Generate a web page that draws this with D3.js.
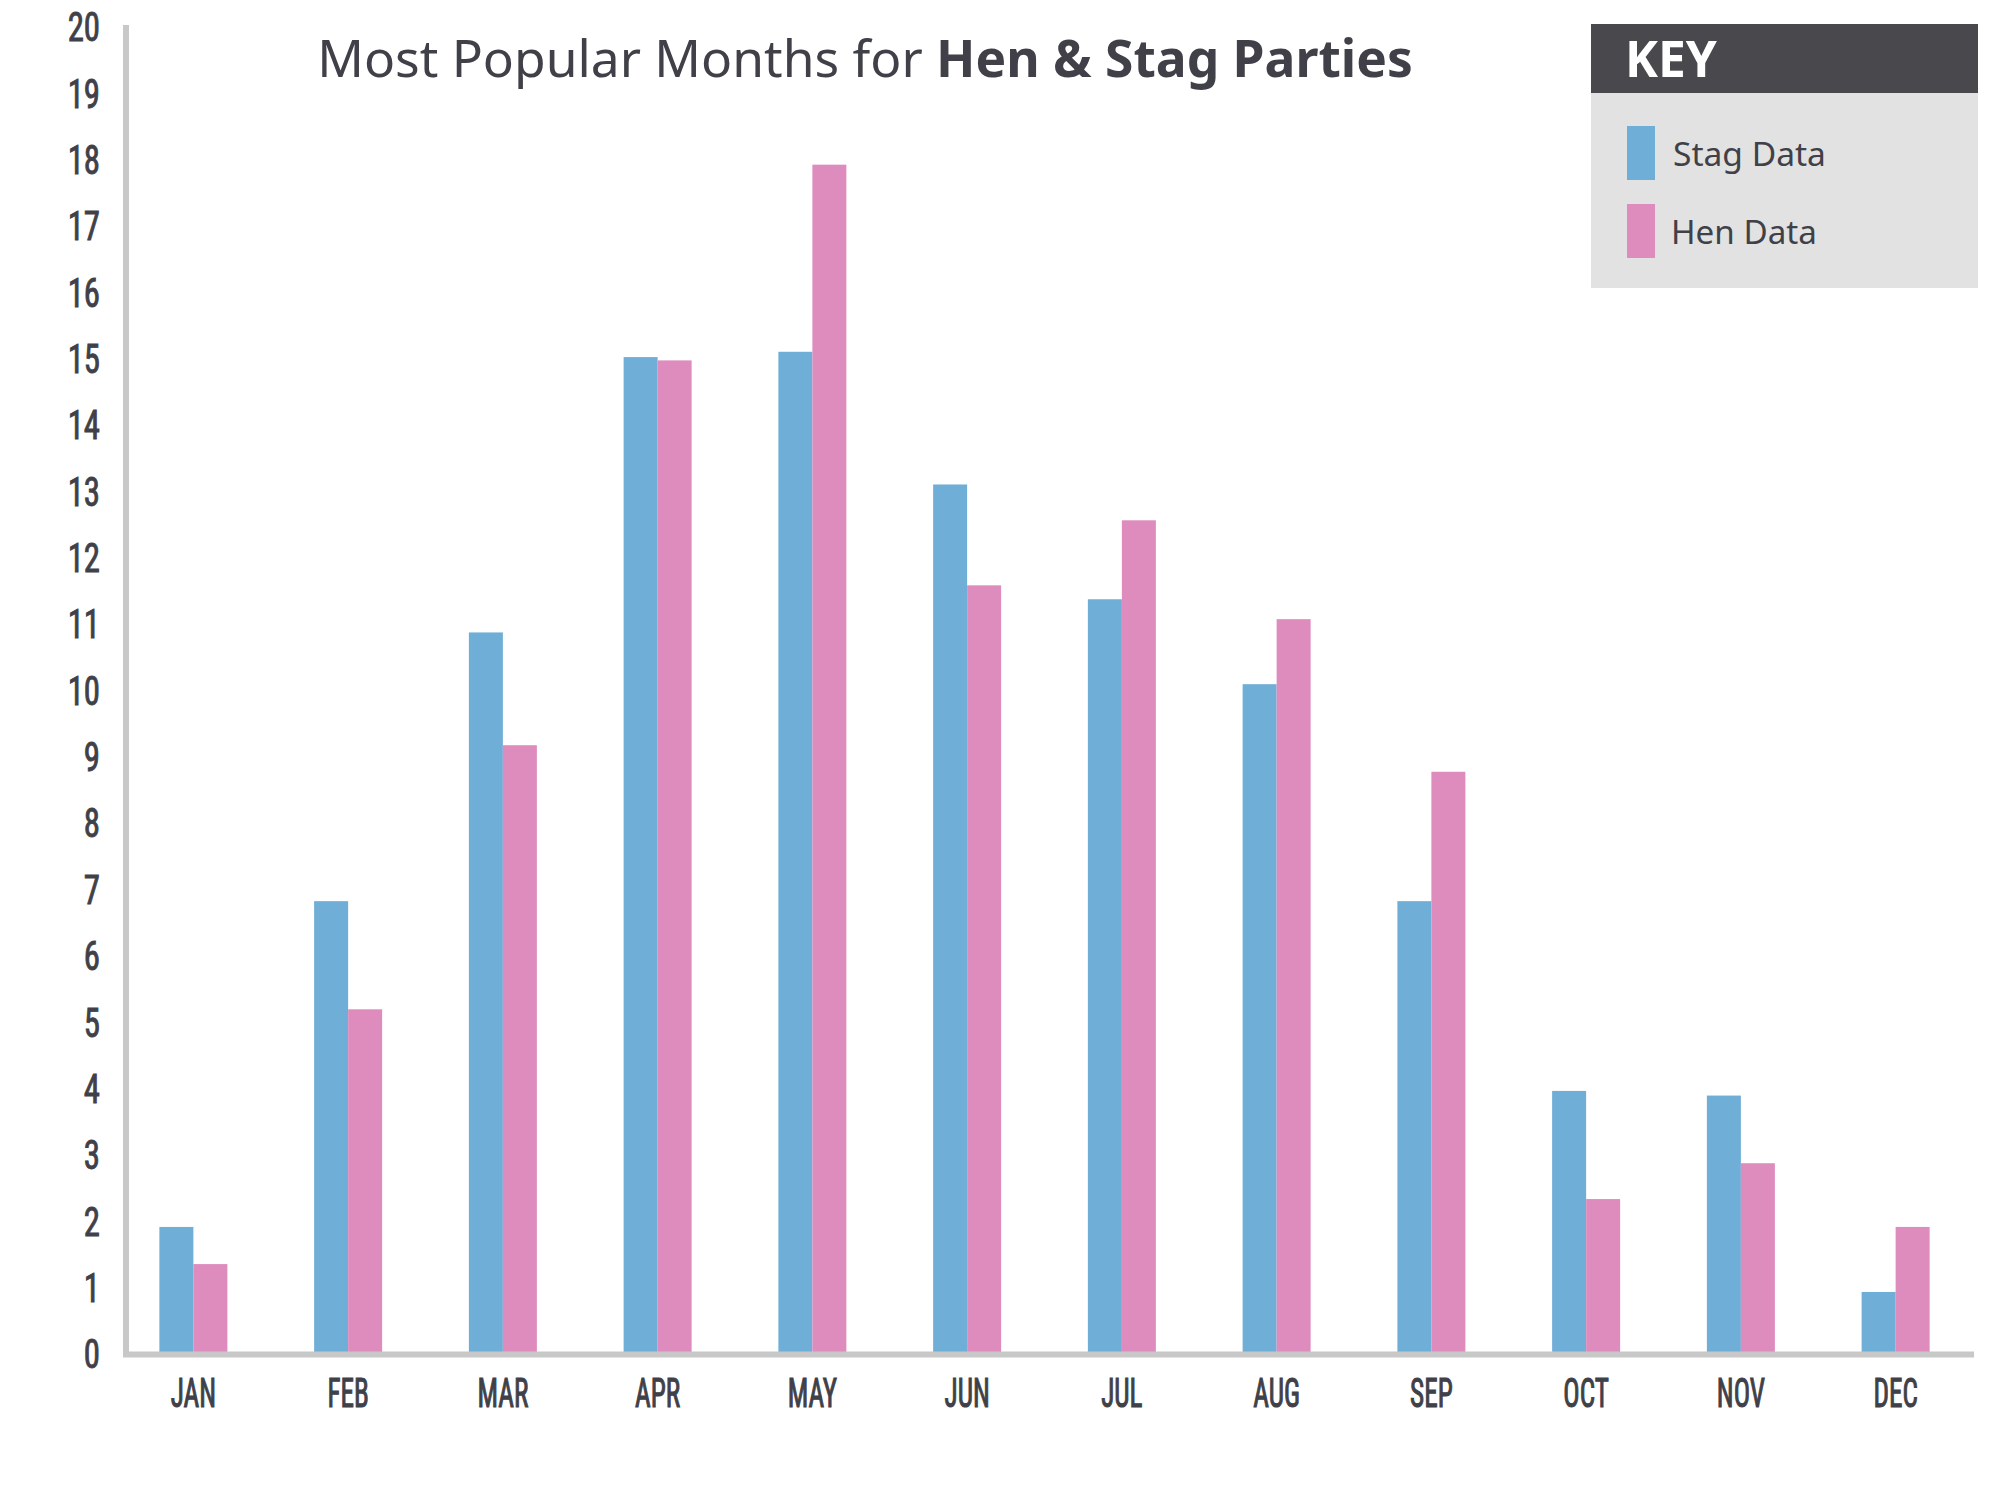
<!DOCTYPE html>
<html>
<head>
<meta charset="utf-8">
<script src="https://cdn.jsdelivr.net/npm/d3@7/dist/d3.min.js"></script>
<style>
  html, body { margin: 0; padding: 0; background: #ffffff; }
  svg { display: block; }
</style>
</head>
<body>
<svg id="chart" width="2000" height="1500"></svg>
<script>
// ---- data ----
const months = ["JAN","FEB","MAR","APR","MAY","JUN","JUL","AUG","SEP","OCT","NOV","DEC"];
const stagData = [1.9, 6.81, 10.86, 15.01, 15.09, 13.09, 11.36, 10.08, 6.81, 3.95, 3.88, 0.92];
const henData  = [1.34, 5.18, 9.16, 14.96, 17.91, 11.57, 12.55, 11.06, 8.76, 2.32, 2.86, 1.9];
const seriesNames = ["Stag Data", "Hen Data"];
const yTicks = d3.range(0, 21);
const titleParts = ["Most Popular Months for ", "Hen & Stag Parties"];

// ---- styles ----
const COL_STAG = "#6faed6";
const COL_HEN = "#de8bbe";
const COL_AXIS = "#c8c8c8";
const COL_TEXT = "#404048";
const narrow = "'Liberation Sans Narrow', 'Roboto Condensed', 'DejaVu Sans Condensed', sans-serif";
const sans = "'Noto Sans', 'Open Sans', 'DejaVu Sans', sans-serif";

const svg = d3.select("#chart");

const x = d3.scaleBand().domain(months).range([116, 1973]).paddingInner(0).paddingOuter(0);
const step = x.step();
const xSub = d3.scaleBand().domain(["stag", "hen"]).range([step / 2 - 34, step / 2 + 34]);
const y = d3.scaleLinear().domain([0, 20]).range([1353, 26]);

const rows = months.map((m, i) => ({ month: m, stag: stagData[i], hen: henData[i] }));

// ---- bars ----
const groups = svg.append("g").selectAll("g").data(rows).join("g")
  .attr("transform", d => `translate(${x(d.month)},0)`);
groups.append("rect")
  .attr("x", xSub("stag")).attr("width", xSub.bandwidth())
  .attr("y", d => y(d.stag)).attr("height", d => y(0) - y(d.stag))
  .attr("fill", COL_STAG);
groups.append("rect")
  .attr("x", xSub("hen")).attr("width", xSub.bandwidth())
  .attr("y", d => y(d.hen)).attr("height", d => y(0) - y(d.hen))
  .attr("fill", COL_HEN);

// ---- axes lines ----
svg.append("line")
  .attr("x1", 126).attr("x2", 126).attr("y1", y(20) - 1).attr("y2", y(0) + 4)
  .attr("stroke", COL_AXIS).attr("stroke-width", 6);
svg.append("line")
  .attr("x1", 123).attr("x2", 1974).attr("y1", y(0) + 1.5).attr("y2", y(0) + 1.5)
  .attr("stroke", COL_AXIS).attr("stroke-width", 6);

// ---- y axis labels ----
const yAxis = d3.axisLeft(y).tickValues(yTicks).tickSize(0).tickFormat(d3.format("d"));
const gy = svg.append("g").attr("transform", "translate(100,0)").call(yAxis);
gy.select(".domain").remove();
gy.selectAll("text")
  .attr("x", 0)
  .attr("dy", "0.36em")
  .attr("fill", COL_TEXT)
  .attr("stroke", COL_TEXT)
  .attr("stroke-width", 0.9)
  .attr("font-family", narrow)
  .attr("font-weight", 400)
  .attr("font-size", 41)
  .attr("transform", "scale(0.8,1)")
  .attr("text-anchor", "end");

// ---- x axis labels ----
const xAxis = d3.axisBottom(x).tickSize(0);
const gx = svg.append("g").attr("transform", `translate(0,${y(0)})`).call(xAxis);
gx.select(".domain").remove();
gx.selectAll(".tick text")
  .attr("y", 0)
  .attr("dy", 0)
  .attr("fill", COL_TEXT)
  .attr("stroke", COL_TEXT)
  .attr("stroke-width", 1.1)
  .attr("font-family", narrow)
  .attr("font-weight", 400)
  .attr("font-size", 40)
  .attr("text-anchor", "middle")
  .attr("transform", "translate(0,54) scale(0.68,1)");

// ---- title ----
const title = svg.append("text")
  .attr("x", 865).attr("y", 77)
  .attr("text-anchor", "middle")
  .attr("font-family", sans)
  .attr("font-size", 52)
  .attr("fill", COL_TEXT);
title.append("tspan").attr("font-weight", 400).text(titleParts[0]);
title.append("tspan").attr("font-weight", 700).text(titleParts[1]);
(function fit() {
  const w = title.node().getComputedTextLength();
  if (w > 0) title.attr("font-size", 52 * 1096 / w);
})();

// ---- legend ----
const leg = svg.append("g");
leg.append("rect").attr("x", 1591).attr("y", 93).attr("width", 387).attr("height", 195).attr("fill", "#e2e2e2");
leg.append("rect").attr("x", 1591).attr("y", 24).attr("width", 387).attr("height", 69).attr("fill", "#48484d");
const keyT = leg.append("text").attr("x", 1625).attr("y", 77)
  .attr("font-family", sans).attr("font-weight", 700).attr("font-size", 46)
  .attr("fill", "#ffffff").text("KEY");
(function fitKey() {
  const w = keyT.node().getComputedTextLength();
  if (w > 0) keyT.attr("font-size", 46 * 92 / w);
})();
const legColors = [COL_STAG, COL_HEN];
const legTargets = [153, 146];
seriesNames.forEach((name, i) => {
  const top = 126 + i * 78;
  leg.append("rect").attr("x", 1627).attr("y", top).attr("width", 28).attr("height", 54).attr("fill", legColors[i]);
  const t = leg.append("text").attr("x", i === 0 ? 1673 : 1671).attr("y", top + 40)
    .attr("font-family", sans).attr("font-size", 33).attr("fill", COL_TEXT).text(name);
  const w = t.node().getComputedTextLength();
  if (w > 0) t.attr("font-size", 33 * legTargets[i] / w);
});
</script>
</body>
</html>
